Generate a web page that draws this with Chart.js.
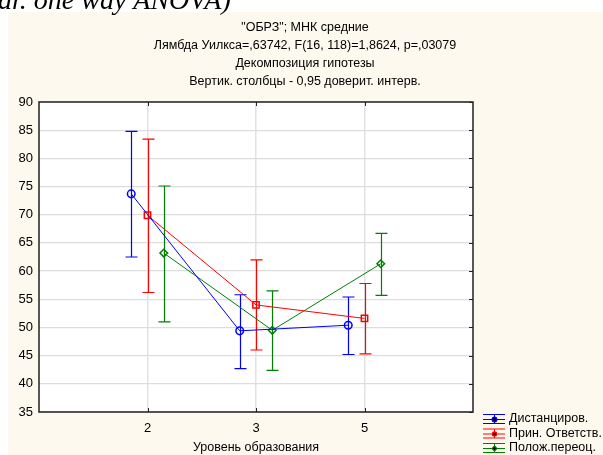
<!DOCTYPE html>
<html>
<head>
<meta charset="utf-8">
<script src="https://cdn.jsdelivr.net/npm/chart.js@4.4.0/dist/chart.umd.min.js"></script>
<style>
  body { margin: 0; background: #fff; }
  canvas { display: block; }
</style>
</head>
<body>
<canvas id="anovaChart" width="603" height="455"></canvas>
<script>
// data
const categories = ["2", "3", "5"];
const seriesNames = ["Дистанциров.", "Прин. Ответств.", "Полож.переоц."];

const distMean = [73.7, 49.4, 50.4];
const distLow = [62.5, 42.7, 45.2];
const distHigh = [84.8, 55.8, 55.4];

const prinMean = [69.9, 54.0, 51.6];
const prinLow = [56.2, 46.0, 45.3];
const prinHigh = [83.4, 62.0, 57.8];

const polMean = [63.2, 49.5, 61.3];
const polLow = [51.0, 42.4, 55.7];
const polHigh = [75.1, 56.5, 66.7];

const titleLines = [
  '"ОБРЗ"; МНК средние',
  "Лямбда Уилкса=,63742, F(16, 118)=1,8624, p=,03079",
  "Декомпозиция гипотезы",
  "Вертик. столбцы - 0,95 доверит. интерв.",
];
const xTitle = "Уровень образования";

const FONT = "'Liberation Sans', Arial, sans-serif";

function makeSeries(name, mean, low, high, color, shape, radius, shift) {
  return {
    label: name,
    data: mean.map((v, i) => ({ x: i + 1 + shift, y: v })),
    low: low,
    high: high,
    borderColor: color,
    backgroundColor: "rgba(0,0,0,0)",
    borderWidth: 1,
    showLine: true,
    pointStyle: shape,
    pointRadius: radius,
    pointBorderWidth: 1.5,
    pointHoverRadius: radius,
  };
}

const datasets = [
  makeSeries(seriesNames[0], distMean, distLow, distHigh, "#0000ff", "circle", 3.8, -0.15),
  makeSeries(seriesNames[1], prinMean, prinLow, prinHigh, "#ff0000", "rect", 4.5, 0),
  makeSeries(seriesNames[2], polMean, polLow, polHigh, "#008000", "rectRot", 3.8, 0.15),
];

const decorPlugin = {
  id: "decor",
  beforeDraw(chart) {
    const ctx = chart.ctx;
    ctx.save();
    ctx.fillStyle = "#ffffff";
    ctx.fillRect(0, 0, chart.width, chart.height);
    ctx.fillStyle = "#fef9ee";
    ctx.fillRect(8, 12, chart.width - 8, chart.height - 12);
    // cut-off caption above the panel
    ctx.fillStyle = "#000";
    ctx.font = "italic 28px 'Liberation Serif', 'DejaVu Serif', serif";
    ctx.textAlign = "left";
    ctx.textBaseline = "alphabetic";
    ctx.fillText("ar. one way ANOVA)", -2, 9);
    // title lines
    ctx.font = "12.5px " + FONT;
    ctx.textAlign = "center";
    ctx.textBaseline = "middle";
    titleLines.forEach((t, i) => ctx.fillText(t, 305, 28 + i * 18));
    // plot background
    const a = chart.chartArea;
    ctx.fillStyle = "#ffffff";
    ctx.fillRect(a.left, a.top, a.right - a.left, a.bottom - a.top);
    ctx.restore();
  },
  beforeDatasetsDraw(chart) {
    const ctx = chart.ctx;
    const xs = chart.scales.x;
    const ys = chart.scales.y;
    ctx.save();
    chart.data.datasets.forEach((ds) => {
      ctx.strokeStyle = ds.borderColor;
      ctx.lineWidth = 1.2;
      ds.data.forEach((p, i) => {
        const px = Math.round(xs.getPixelForValue(p.x)) + 0.5;
        const yl = ys.getPixelForValue(ds.low[i]);
        const yh = ys.getPixelForValue(ds.high[i]);
        ctx.beginPath();
        ctx.moveTo(px, yl);
        ctx.lineTo(px, yh);
        ctx.moveTo(px - 6, yl);
        ctx.lineTo(px + 6, yl);
        ctx.moveTo(px - 6, yh);
        ctx.lineTo(px + 6, yh);
        ctx.stroke();
      });
    });
    ctx.restore();
  },
  afterDraw(chart) {
    const ctx = chart.ctx;
    const a = chart.chartArea;
    const xs = chart.scales.x;
    const ys = chart.scales.y;
    ctx.save();
    // frame
    ctx.strokeStyle = "#222";
    ctx.lineWidth = 1.5;
    ctx.strokeRect(a.left, a.top, a.right - a.left, a.bottom - a.top);
    // inner tick marks
    ctx.lineWidth = 1;
    ys.ticks.forEach((t) => {
      const y = Math.round(ys.getPixelForValue(t.value)) + 0.5;
      ctx.beginPath();
      ctx.moveTo(a.right - 4, y);
      ctx.lineTo(a.right, y);
      ctx.stroke();
    });
    [1, 2, 3].forEach((v) => {
      const x = Math.round(xs.getPixelForValue(v)) + 0.5;
      ctx.beginPath();
      ctx.moveTo(x, a.top);
      ctx.lineTo(x, a.top + 4);
      ctx.moveTo(x, a.bottom);
      ctx.lineTo(x, a.bottom - 4);
      ctx.stroke();
    });
    // axis title
    ctx.fillStyle = "#000";
    ctx.font = "12.5px " + FONT;
    ctx.textAlign = "center";
    ctx.textBaseline = "middle";
    ctx.fillText(xTitle, (a.left + a.right) / 2, 448);
    // legend
    ctx.textAlign = "left";
    chart.data.datasets.forEach((ds, i) => {
      const y = 419 + i * 14.5;
      const x0 = 483, x1 = 505, cx = 494;
      ctx.strokeStyle = ds.borderColor;
      ctx.lineWidth = 1;
      ctx.beginPath();
      ctx.moveTo(x0, y - 4.5); ctx.lineTo(x1, y - 4.5);
      ctx.moveTo(x0, y + 0.5); ctx.lineTo(x1, y + 0.5);
      ctx.moveTo(x0, y + 4.5); ctx.lineTo(x1, y + 4.5);
      ctx.moveTo(cx + 0.5, y - 4.5); ctx.lineTo(cx + 0.5, y + 4.5);
      ctx.stroke();
      Chart.helpers.drawPoint(ctx, {
        pointStyle: ds.pointStyle, radius: 2.5, borderWidth: 1.2,
      }, cx + 0.5, y + 0.5);
      ctx.stroke();
      ctx.fillStyle = "#000";
      ctx.fillText(ds.label, 509, y);
    });
    ctx.restore();
  },
};

new Chart(document.getElementById("anovaChart"), {
  type: "scatter",
  data: { datasets: datasets },
  options: {
    responsive: false,
    animation: false,
    layout: { padding: { top: 102, right: 130, left: 0, bottom: 0 } },
    plugins: {
      legend: { display: false },
      title: { display: false },
      tooltip: { enabled: false },
    },
    scales: {
      x: {
        type: "linear",
        min: 0,
        max: 4,
        afterFit: (s) => { s.height = 43; },
        border: { display: false },
        grid: {
          color: (c) => (c.tick && (c.tick.value === 0 || c.tick.value === 4) ? "rgba(0,0,0,0)" : "#e2e2e2"),
          lineWidth: 1.5,
          drawTicks: false,
        },
        ticks: {
          stepSize: 1,
          padding: 9,
          color: "#000",
          font: { family: FONT, size: 13 },
          callback: (v) => categories[v - 1] || "",
        },
      },
      y: {
        min: 35,
        max: 90,
        afterFit: (s) => { s.width = 39; },
        border: { display: false },
        grid: { color: "#dddddd", lineWidth: 1.2, drawTicks: false },
        ticks: {
          stepSize: 5,
          padding: 6,
          color: "#000",
          font: { family: FONT, size: 13 },
        },
      },
    },
  },
  plugins: [decorPlugin],
});
</script>
</body>
</html>
